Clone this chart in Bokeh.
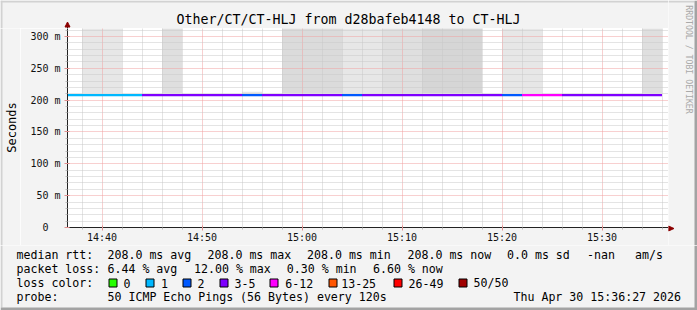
import math
from bokeh.plotting import figure
from bokeh.layouts import column, row
from bokeh.models import FixedTicker
from bokeh.core.properties import value
from bokeh.embed import file_html
from bokeh.resources import INLINE

# ---------------- data ----------------
title_text = "Other/CT/CT-HLJ from d28bafeb4148 to CT-HLJ"
y_axis_title = "Seconds"
watermark = "RRDTOOL / TOBI OETIKER"

# start of each 2-minute RRD step, minutes after 14:00
sample_start = [36, 38, 40, 42, 44, 46, 48, 50, 52, 54,
                56, 58, 60, 62, 64, 66, 68, 70, 72, 74,
                76, 78, 80, 82, 84, 86, 88, 90, 92, 94]
step_minutes = 2
# median round trip time per step (ms)
median_ms = [208.0, 208.0, 208.0, 208.0, 208.0, 208.0, 208.0, 208.0, 208.0, 208.0,
             208.0, 208.0, 208.0, 208.0, 208.0, 208.0, 208.0, 208.0, 208.0, 208.0,
             208.0, 208.0, 208.0, 208.0, 208.0, 208.0, 208.0, 208.0, 208.0, 208.0]
# lost pings (out of 50) per step
loss_pings = [1, 1, 1, 1, 4, 4, 3, 4, 3, 2,
              3, 4, 4, 3, 2, 3, 4, 5, 4, 4,
              3, 3, 2, 6, 6, 3, 4, 3, 3, 3]
# smoke (ping spread) per step: lower / upper rtt (ms) and density level
smoke_low_ms = [208, 211, 211, 208, 208, 211, 208, 208, 208, 209.5,
                208, 211, 211, 211, 211, 211, 211, 211, 211, 211,
                211, 208, 211, 211, 208, 208, 208, 208, 208, 211]
smoke_high_ms = [208, 400, 400, 208, 208, 400, 208, 208, 208, 213,
                 208, 400, 400, 400, 400, 400, 400, 400, 400, 400,
                 400, 208, 400, 400, 208, 208, 208, 208, 208, 400]
smoke_level = [0, 1, 1, 0, 0, 2, 0, 0, 0, 1,
               0, 3, 3, 3, 1, 1, 2, 2, 4, 4,
               4, 0, 1, 1, 0, 0, 0, 0, 0, 2]

x_tick_pos = [40, 50, 60, 70, 80, 90]
x_tick_labels = ["14:40", "14:50", "15:00", "15:10", "15:20", "15:30"]
x_minor_pos = [38, 42, 44, 46, 48, 52, 54, 56, 58, 62, 64, 66, 68, 72, 74, 76, 78,
               82, 84, 86, 88, 92, 94, 96]
y_tick_pos = [0, 50, 100, 150, 200, 250, 300]
y_tick_labels = ["0\u00a0\u00a0", "50 m", "100 m", "150 m", "200 m", "250 m", "300 m"]
y_minor_pos = [10, 20, 30, 40, 60, 70, 80, 90, 110, 120, 130, 140, 160, 170, 180, 190,
               210, 220, 230, 240, 260, 270, 280, 290, 310]

loss_bin_labels = ["0", "1", "2", "3-5", "6-12", "13-25", "26-49", "50/50"]
loss_bin_upper = [0, 1, 2, 5, 12, 25, 49, 50]

rtt_row = ["median rtt:", "208.0 ms avg", "208.0 ms max", "208.0 ms min",
           "208.0 ms now", "0.0 ms sd", "-nan", "am/s"]
loss_row = ["packet loss:", "6.44 % avg", "12.00 % max", "0.30 % min", "6.60 % now"]
color_row_title = "loss color:"
probe_row = ["probe:", "50 ICMP Echo Pings (56 Bytes) every 120s"]
stamp_text = "Thu Apr 30 15:36:27 2026"

# ---------------- styles / layout ----------------
FONT = "DejaVu Sans Mono"
BG = "#f3f3f3"
SHADE_A = "#d2d2d2"
SHADE_B = "#a3a3a3"
AXIS_COL = "#222222"
ARROW_COL = "#8b0000"
loss_colors = ["#26ff00", "#00b8ff", "#0059ff", "#7e00ff",
               "#ff00ff", "#ff5500", "#ff0000", "#a10000"]
smoke_greys = [None, "#e7e7e7", "#dfdfdf", "#dbdbdb", "#d6d6d6"]

W, H = 697, 310
EDGE = 2                            # light shade on left/top edges
LSTRIP = 20                         # left strip holding the axis title
FL, FR, FT, FB = 67, 668, 28, 228   # plot frame edges (px)
AXB = 245                           # bottom of the axis area (px)
X0, X1 = 36.55, 96.65
Y0, Y1 = 0.0, 312.5


def loss_color(n):
    for up, c in zip(loss_bin_upper, loss_colors):
        if n <= up:
            return c
    return loss_colors[-1]


def pixel_fig(x0, y0, w, h, bg=BG):
    """A figure whose frame covers its whole canvas, in page-pixel units."""
    f = figure(width=w, height=h, x_range=(x0, x0 + w), y_range=(y0 + h, y0),
               x_axis_type=None, y_axis_type=None, min_border=0,
               output_backend="svg", toolbar_location=None, tools="", title=None)
    f.background_fill_color = bg
    f.border_fill_color = bg
    f.outline_line_color = None
    return f


def label(f, texts, xs, ys, size="11.6px", align="left", color="#000000", angle=0.0):
    f.text(x=xs, y=ys, text=texts, text_font=value(FONT),
           text_font_size=value(size), text_align=align, text_baseline="middle",
           text_color=color, angle=angle)


# ---------------- main plot ----------------
p = figure(width=FR - LSTRIP, height=AXB - FT, x_range=(X0, X1), y_range=(Y0, Y1),
           output_backend="svg", toolbar_location=None, tools="", title=None,
           min_border_left=FL - LSTRIP, min_border_right=0,
           min_border_top=0, min_border_bottom=AXB - FB)
p.background_fill_color = "#ffffff"
p.border_fill_color = BG
p.outline_line_color = None

sx0, sx1, slo, shi, scol = [], [], [], [], []
for s, lo, hi, lv in zip(sample_start, smoke_low_ms, smoke_high_ms, smoke_level):
    if lv > 0:
        sx0.append(s)
        sx1.append(s + step_minutes)
        slo.append(lo)
        shi.append(hi)
        scol.append(smoke_greys[lv])
p.quad(left=sx0, right=sx1, bottom=slo, top=shi, fill_color=scol,
       line_color=None, level="image")

p.segment(x0=sample_start, x1=[s + step_minutes for s in sample_start],
          y0=median_ms, y1=median_ms,
          line_color=[loss_color(n) for n in loss_pings], line_width=2.3)

xt = FixedTicker(ticks=x_tick_pos, minor_ticks=x_minor_pos)
yt = FixedTicker(ticks=y_tick_pos, minor_ticks=y_minor_pos)
p.xaxis.ticker = xt
p.yaxis.ticker = yt
p.xgrid.ticker = xt
p.ygrid.ticker = yt
p.xaxis.major_label_overrides = dict(zip(x_tick_pos, x_tick_labels))
p.yaxis.major_label_overrides = dict(zip(y_tick_pos, y_tick_labels))

for g in (p.xgrid, p.ygrid):
    g.grid_line_color = "#f0a0a0"
    g.grid_line_dash = "1 1"
    g.grid_line_width = 1
    g.minor_grid_line_color = "#c8c8c8"
    g.minor_grid_line_dash = "1 1"
    g.minor_grid_line_width = 1

for ax in (p.xaxis, p.yaxis):
    ax.axis_line_color = AXIS_COL
    ax.major_label_text_font = FONT
    ax.major_label_text_font_size = "10px"
    ax.major_label_text_color = "#111111"
    ax.major_tick_line_color = "#e09090"
    ax.minor_tick_line_color = "#bbbbbb"
    ax.major_tick_out = 3
    ax.major_tick_in = 2
    ax.minor_tick_out = 2
    ax.minor_tick_in = 0
p.xaxis.major_label_standoff = 1
p.yaxis.major_label_standoff = 4

# left strip: light edge + vertical axis title
lft = pixel_fig(0, FT, LSTRIP, AXB - FT)
lft.quad(left=[0], right=[EDGE], top=[FT], bottom=[AXB], fill_color=SHADE_A, line_color=None)
label(lft, [y_axis_title], [11.0], [127.0], size="12px", align="center", angle=math.pi / 2)

# ---------------- top strip: title, y-axis arrow ----------------
top = pixel_fig(0, 0, FR, FT)
top.quad(left=[0], right=[FR], top=[0], bottom=[EDGE], fill_color=SHADE_A, line_color=None)
top.quad(left=[0], right=[EDGE], top=[0], bottom=[FT], fill_color=SHADE_A, line_color=None)
top.segment(x0=[FL], x1=[FL], y0=[FT], y1=[25], line_color=AXIS_COL, line_width=1)
top.patch(x=[FL - 2.5, FL, FL + 2.5], y=[26.5, 21.5, 26.5],
          fill_color=ARROW_COL, line_color=ARROW_COL)
label(top, [title_text], [348.0], [19.0], size="13.3px", align="center")

# ---------------- right strip: watermark, x-axis arrow ----------------
rgt = pixel_fig(FR, 0, W - FR, AXB)
rgt.quad(left=[FR], right=[W - 3], top=[0], bottom=[EDGE], fill_color=SHADE_A, line_color=None)
rgt.quad(left=[W - 3], right=[W], top=[0], bottom=[AXB], fill_color=SHADE_B, line_color=None)
rgt.patch(x=[FR, FR + 5.5, FR], y=[FB - 2.5, FB, FB + 2.5],
          fill_color=ARROW_COL, line_color=ARROW_COL)
label(rgt, [watermark], [688.0], [59.0], size="8.2px", align="center",
      color="#a9a9a9", angle=-math.pi / 2)

# ---------------- bottom strip: legend ----------------
bot = pixel_fig(0, AXB, W, H - AXB)
bot.quad(left=[0], right=[EDGE], top=[AXB], bottom=[H - 3], fill_color=SHADE_A, line_color=None)
bot.quad(left=[W - 3], right=[W], top=[AXB], bottom=[H], fill_color=SHADE_B, line_color=None)
bot.quad(left=[0], right=[W], top=[H - 3], bottom=[H], fill_color=SHADE_B, line_color=None)

rtt_x = [16, 107, 207, 306.5, 407, 506.5, 586.5, 634.5]
label(bot, rtt_row, rtt_x, [254.5] * len(rtt_row))
loss_x = [16, 107, 193.5, 286.3, 372.5]
label(bot, loss_row, loss_x, [268.5] * len(loss_row))
label(bot, [color_row_title], [16], [282.5])
box_x = [108.5, 145.5, 182.5, 219.5, 269.5, 328.5, 393.5, 458.5]
lab_x = [123, 160.6, 197, 234, 284.7, 340.7, 408, 473]
bot.quad(left=box_x, right=[b + 8 for b in box_x], top=[278.5] * 8, bottom=[286.5] * 8,
         fill_color=loss_colors, line_color="#000000", line_width=1)
label(bot, loss_bin_labels, lab_x, [282.5] * len(loss_bin_labels))
label(bot, probe_row, [16, 107], [296.3, 296.3])
label(bot, [stamp_text], [680.5], [296.3], align="right")

# plots are wrapped singly so the layout does not align their frames
middle = row(column(lft), column(p))
layout = column(row(column(column(top), middle), rgt), bot)
open("out.html", "w").write(file_html(layout, INLINE))
